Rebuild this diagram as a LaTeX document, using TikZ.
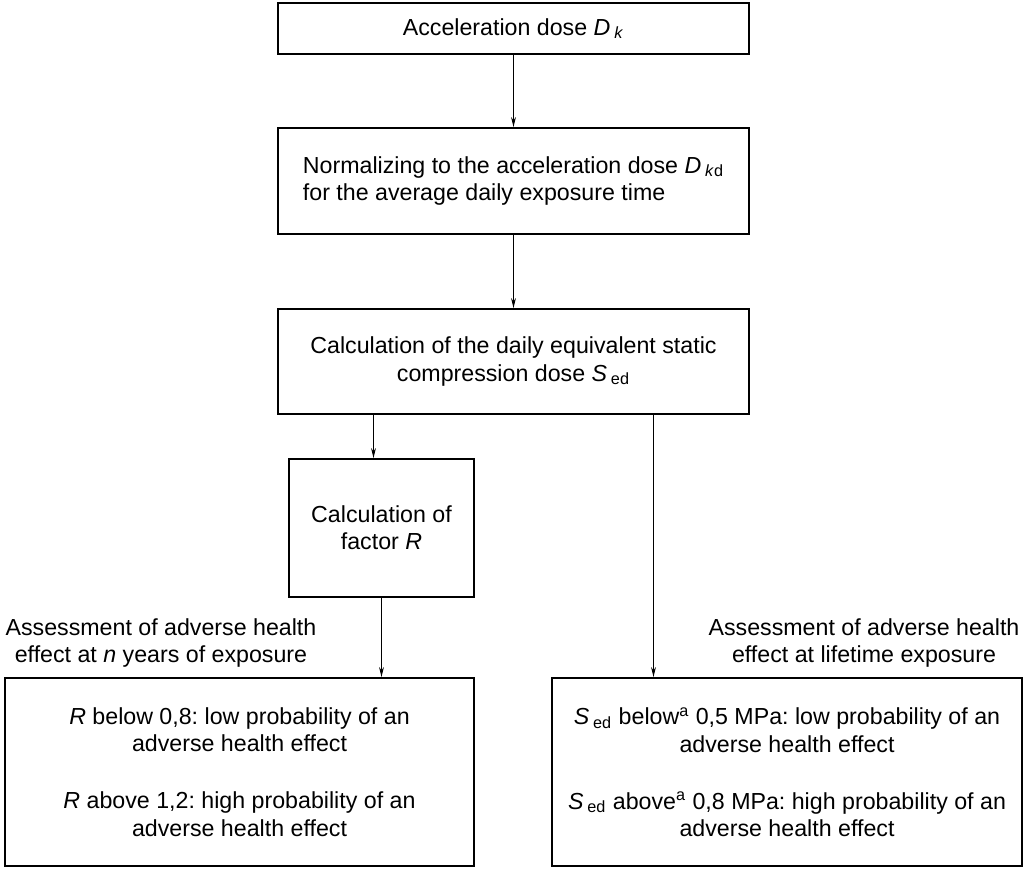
\documentclass[tikz,border=0pt]{standalone}
\usepackage{fontspec}
\setmainfont{Liberation Sans}
\usetikzlibrary{arrows.meta}
\frenchspacing
\def\Sed{\textit{S}\,\textsubscript{ed}}
\def\Dk{\textit{D}\,\textsubscript{\textit{k}}}
\def\Dkd{\textit{D}\,\textsubscript{\textit{k}d}}
\def\txt{\fontsize{11.6}{13.6}\selectfont}
\tikzstyle{dosebox}=[draw,rectangle,line width=0.9pt,inner sep=0pt,
                     align=center,font=\txt]
\tikzstyle{assess}=[align=center,inner sep=0pt,font=\txt]
\tikzstyle{flow}=[-{Stealth[length=5pt,width=2.4pt]},line width=0.5pt]

\begin{document}
\begin{tikzpicture}[x=0.5pt,y=-0.5pt]
  \useasboundingbox (0,0) rectangle (1024,870);
  % Dose chain
  \node[dosebox,minimum width=235.5pt,minimum height=25.5pt] (dk) at (513.5,28.5)
    {Acceleration dose \Dk};
  \node[dosebox,align=left,minimum width=235.5pt,minimum height=53pt] (dkd) at (513.5,181)
    {Normalizing to the acceleration dose \Dkd\\for the average daily exposure time};
  \node[dosebox,minimum width=235.5pt,minimum height=52.5pt] (sed) at (513.5,361.5)
    {Calculation of the daily equivalent static\\compression dose \Sed};
  \node[dosebox,minimum width=92.5pt,minimum height=69pt] (calcR) at (381.5,528)
    {Calculation of\\factor \textit{R}};

  % Assessment boxes
  \node[dosebox,minimum width=234.5pt,minimum height=94pt] (nyears) at (239.5,772)
    {\textit{R} below 0,8: low probability of an\\adverse health effect\\[15pt]
     \textit{R} above 1,2: high probability of an\\adverse health effect};
  \node[dosebox,minimum width=235pt,minimum height=94pt] (lifetime) at (787,772)
    {\Sed\ below\textsuperscript{a} 0,5 MPa: low probability of an\\adverse health effect\\[15pt]
     \Sed\ above\textsuperscript{a} 0,8 MPa: high probability of an\\adverse health effect};

  \node[assess] (nyearslbl) at (161,643)
    {Assessment of adverse health\\effect at \textit{n} years of exposure};
  \node[assess] (lifetimelbl) at (864,643)
    {Assessment of adverse health\\effect at lifetime exposure};

  % Connectors
  \draw[flow] (dk) -- (dkd);
  \draw[flow] (dkd) -- (sed);
  \draw[flow] ([xshift=-70pt]sed.south) -- ([xshift=-70pt]sed.south |- calcR.north);
  \draw[flow] (calcR.south) -- (calcR.south |- nyears.north);
  \draw[flow] ([xshift=70pt]sed.south) -- ([xshift=70pt]sed.south |- lifetime.north);
\end{tikzpicture}
\end{document}
